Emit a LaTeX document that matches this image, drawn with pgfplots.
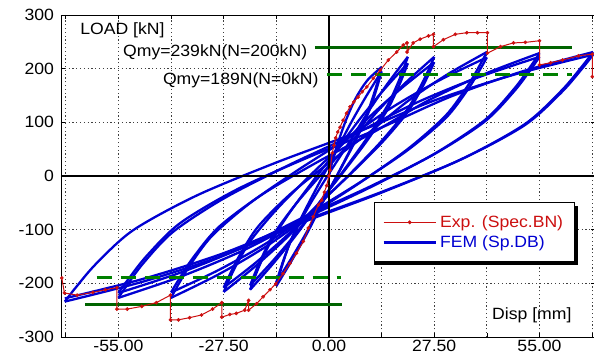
\documentclass[border=0pt]{standalone}
\usepackage{fontspec}
\setmainfont{Liberation Sans}[FakeStretch=1.08]
\usepackage{pgfplots}
\pgfplotsset{compat=1.18}
\definecolor{expred}{RGB}{204,16,16}
\definecolor{femblue}{RGB}{0,0,210}
\definecolor{dkgreen}{RGB}{0,100,0}
\definecolor{ltgreen}{RGB}{0,128,0}
\newcommand{\lab}{\fontsize{16.3bp}{19bp}\selectfont}
\usetikzlibrary{calc}
\begin{document}
\begin{tikzpicture}
\begin{axis}[
  scale only axis, width=534bp, height=322bp,
  xmin=-70, xmax=69.5, ymin=-300, ymax=300,
  xtick={-55,-27.5,0,27.5,55},
  xticklabels={-55.00,-27.50,0.00,27.50,55.00},
  minor xtick={-68.75,-41.25,-13.75,13.75,41.25,68.75},
  ytick={-300,-200,-100,0,100,200,300},
  yticklabels={-300,-200,-100,0,100,200,300},
  grid=both,
  major grid style={black!75, dash pattern=on 1.2bp off 2.6bp, line width=0.8bp},
  minor grid style={black!75, dash pattern=on 1.2bp off 2.6bp, line width=0.8bp},
  tick align=inside,
  major tick length=4bp, minor tick length=4bp,
  tick style={black, line width=0.6bp},
  axis line style={black, line width=0.8bp},
  tick label style={font=\lab},
  yticklabel style={xshift=-3.5bp},
  legend cell align=left,
  legend style={at={(0.962,0.419)}, anchor=north east, draw=black, line width=1.2bp,
    fill=white, font=\lab, inner xsep=8bp, inner ysep=11.5bp, row sep=3.7bp,
    nodes={inner xsep=3bp, inner ysep=1.5bp},
    /tikz/every even column/.append style={column sep=1bp}},
  legend image code/.code={\draw[mark repeat=2,mark phase=2,#1] plot coordinates {(0bp,0bp) (26bp,0bp) (52bp,0bp)};},
  fem/.style={femblue, line width=2.3bp, line join=round, smooth, tension=0.5, forget plot},
]
\addlegendimage{expred, line width=1.2bp, mark=*, mark size=1.7bp, mark options={fill=expred, draw=expred, line width=0.5bp}}
\addlegendentry{\textcolor{expred}{Exp. (Spec.BN)}}
\addlegendimage{femblue, line width=3bp}
\addlegendentry{\textcolor{femblue}{FEM (Sp.DB)}}

% FEM hysteresis loops, one branch per plot
\addplot[fem] coordinates {(0,0) (1,30) (2.5,65) (4.5,105) (7,145) (10,178) (13.75,203)};
\addplot[fem] coordinates {(13.75,203) (13.2,188.3) (12.1,161) (10.18,120.6) (6.88,68) (2.75,10) (-1.38,-45.9) (-5.5,-103.8) (-9.63,-156.4) (-13.75,-205)};
\addplot[fem] coordinates {(-13.75,-205) (-13.2,-190.6) (-12.1,-163.8) (-10.18,-124.2) (-6.88,-72.6) (-2.75,-15.8) (1.38,39) (5.5,95.8) (9.63,147.4) (13.75,195)};
\addplot[fem] coordinates {(13.75,195) (13.2,180.9) (12.1,154.5) (10.18,115.6) (6.88,64.9) (2.75,9.1) (-1.38,-44.7) (-5.5,-100.5) (-9.63,-151.2) (-13.75,-198)};
\addplot[fem] coordinates {(-13.75,-198) (-13.06,-182.3) (-11.69,-152.8) (-9.28,-109.8) (-5.16,-55.2) (-0.01,4.2) (5.14,60.9) (10.3,120.2) (15.45,173.5) (20.6,222)};
\addplot[fem] coordinates {(20.6,222) (19.78,205.7) (18.13,175.3) (15.24,130.9) (10.3,74.4) (4.12,13) (-2.06,-45.6) (-8.24,-106.8) (-14.42,-161.9) (-20.6,-212)};
\addplot[fem] coordinates {(-20.6,-212) (-19.78,-196.2) (-18.13,-166.6) (-15.24,-123.4) (-10.3,-68.5) (-4.12,-8.8) (2.06,48.2) (8.24,107.7) (14.42,161.3) (20.6,210)};
\addplot[fem] coordinates {(20.6,210) (19.78,194.5) (18.13,165.5) (15.24,123.1) (10.3,69.2) (4.12,10.7) (-2.06,-45.2) (-8.24,-103.6) (-14.42,-156.2) (-20.6,-204)};
\addplot[fem] coordinates {(-20.6,-204) (-19.64,-186.5) (-17.71,-154.2) (-14.35,-107.7) (-8.57,-51.5) (-1.36,8.1) (5.86,64.4) (13.07,123.6) (20.29,175.6) (27.5,222)};
\addplot[fem] coordinates {(27.5,222) (26.4,204) (24.2,170.8) (20.35,123) (13.75,65.2) (5.5,3.9) (-2.75,-53.9) (-11,-114.8) (-19.25,-168.3) (-27.5,-216)};
\addplot[fem] coordinates {(-27.5,-216) (-26.4,-198.5) (-24.2,-165.9) (-20.35,-119.3) (-13.75,-62.8) (-5.5,-2.9) (2.75,53.6) (11,113.1) (19.25,165.3) (27.5,212)};
\addplot[fem] coordinates {(27.5,212) (26.4,194.8) (24.2,162.9) (20.35,117.1) (13.75,61.6) (5.5,2.8) (-2.75,-52.6) (-11,-111) (-19.25,-162.2) (-27.5,-208)};
\addplot[fem] coordinates {(-27.5,-208) (-26.13,-186.9) (-23.38,-148.3) (-18.56,-94.7) (-10.31,-35) (0,24.7) (10.31,80) (20.63,139.7) (30.94,189.3) (41.25,231)};
\addplot[fem] coordinates {(41.25,231) (39.6,209) (36.3,168.7) (30.52,112.8) (20.62,50.5) (8.25,-11.7) (-4.13,-69.4) (-16.5,-131.7) (-28.88,-183.5) (-41.25,-227)};
\addplot[fem] coordinates {(-41.25,-227) (-39.6,-205.5) (-36.3,-166.1) (-30.52,-111.4) (-20.62,-50.5) (-8.25,10.4) (4.13,66.9) (16.5,127.8) (28.88,178.4) (41.25,221)};
\addplot[fem] coordinates {(41.25,221) (39.6,200) (36.3,161.4) (30.52,108) (20.62,48.4) (8.25,-11.1) (-4.13,-66.3) (-16.5,-125.9) (-28.88,-175.4) (-41.25,-217)};
\addplot[fem] coordinates {(-41.25,-217) (-39.33,-194) (-35.48,-152.1) (-28.74,-94.8) (-17.19,-33.2) (-2.75,27) (11.69,81.8) (26.13,141.4) (40.56,189.8) (55,229)};
\addplot[fem] coordinates {(55,229) (52.8,205.5) (48.4,162.7) (40.7,104.1) (27.5,41.1) (11,-20.4) (-5.5,-76.5) (-22,-137.4) (-38.5,-186.9) (-55,-227)};
\addplot[fem] coordinates {(-55,-227) (-52.8,-203.9) (-48.4,-161.7) (-40.7,-104) (-27.5,-42) (-11,18.6) (5.5,73.8) (22,133.8) (38.5,182.5) (55,222)};
\addplot[fem] coordinates {(55,222) (52.8,199.3) (48.4,158) (40.7,101.4) (27.5,40.7) (11,-18.7) (-5.5,-72.8) (-22,-131.5) (-38.5,-179.3) (-55,-218)};
\addplot[fem] coordinates {(-55,-218) (-52.52,-193.3) (-47.56,-148.4) (-38.88,-87.8) (-24,-24.9) (-5.4,34.8) (13.2,88.7) (31.8,147.9) (50.4,194.6) (69,231)};
\addplot[fem] coordinates {(69,231) (66.24,205.4) (60.72,158.9) (51.06,96.1) (34.5,31) (13.8,-30.8) (-6.9,-86.6) (-27.6,-148) (-48.3,-196.3) (-69,-234)};
\addplot[fem] coordinates {(-69,-234) (-66.24,-208.7) (-60.72,-162.7) (-51.06,-100.6) (-34.5,-36.2) (-13.8,25) (6.9,80.2) (27.6,140.9) (48.3,188.7) (69,226)};
\addplot[fem] coordinates {(69,226) (66.24,201) (60.72,155.6) (51.06,94.3) (34.5,30.8) (13.8,-29.6) (-6.9,-84.1) (-27.6,-144) (-48.3,-191.2) (-69,-228)};

% zero lines
\addplot[black, line width=1.8bp, forget plot] coordinates {(-70,0) (69.5,0)};
\addplot[black, line width=1.8bp, forget plot] coordinates {(0,-300) (0,300)};

% Qmy lines
\addplot[dkgreen, line width=3.5bp, forget plot] coordinates {(-3.7,239) (63.4,239)};
\addplot[ltgreen, line width=3.5bp, dash pattern=on 15bp off 9bp, forget plot] coordinates {(-0.5,189) (63.4,189)};
\addplot[dkgreen, line width=3.5bp, forget plot] coordinates {(-63.6,-239) (3.4,-239)};
\addplot[ltgreen, line width=3.5bp, dash pattern=on 15bp off 9bp, forget plot] coordinates {(-60.7,-189) (3.1,-189)};

% experimental envelope
\addplot[expred, line width=1bp, mark=*, mark size=1.6bp, mark options={fill=expred, draw=expred, line width=0.5bp}, forget plot] coordinates {
(-69.8,-190) (-69.1,-218) (-65.8,-222) (-61.7,-217) (-58.4,-212) (-55.4,-208) (-55.4,-248) (-52.7,-248)
(-48.9,-243) (-45.1,-236) (-41.4,-222) (-41.4,-268) (-39.3,-268) (-36.4,-264) (-33.3,-259) (-30.4,-248)
(-28,-236) (-28,-263) (-25.9,-258) (-24.2,-256) (-22,-250) (-21,-232) (-21,-250) (-18.9,-238)
(-17.2,-225) (-15.4,-212) (-13.9,-201) (-12,-182) (-10.2,-163) (-8.5,-144) (-6.7,-122) (-5.4,-97)
(-4.1,-76) (-2.8,-54) (-1.9,-45) (-1.2,-30) (-0.6,-18) (0,0) (0.3,11) (0.87,43) (1.3,57) (1.75,71)
(2.3,82) (2.9,91) (3.7,104) (4.6,117) (5.5,129) (6.5,138) (7.6,147) (8.7,157) (9.9,166) (11.6,182)
(13.4,197) (15.5,216) (17.7,231) (19.4,244) (20.4,248) (20.4,231) (22,248) (23.8,255) (26,261)
(27.3,264) (27.3,241) (29.9,254) (33,264) (36,267) (38.8,267) (41.4,267) (41.4,229) (44.8,241)
(48.2,248) (51.3,249) (55,252) (55,207) (57.9,211) (61,216) (65.2,224) (68.8,227) (68.8,185)
};

% legend shadow (legend itself is drawn on top)
\fill[black] (rel axis cs:0.587,0.225) rectangle (rel axis cs:0.969,0.408);

\node[anchor=west, inner sep=0pt, font=\lab] at (axis cs:-65,272) {LOAD [kN]};
\node[anchor=west, inner sep=0pt, font=\lab] at (axis cs:-53.8,231) {Qmy=239kN(N=200kN)};
\node[anchor=west, inner sep=0pt, font=\lab] at (axis cs:-43.4,179) {Qmy=189N(N=0kN)};
\node[anchor=west, inner sep=0pt, font=\lab] at (axis cs:42.6,-259) {Disp [mm]};
\end{axis}
\pgfresetboundingbox
\path[use as bounding box] ($(current axis.south west)+(-61bp,-24bp)$) rectangle ($(current axis.north east)+(-1bp,15bp)$);
\end{tikzpicture}
\end{document}
